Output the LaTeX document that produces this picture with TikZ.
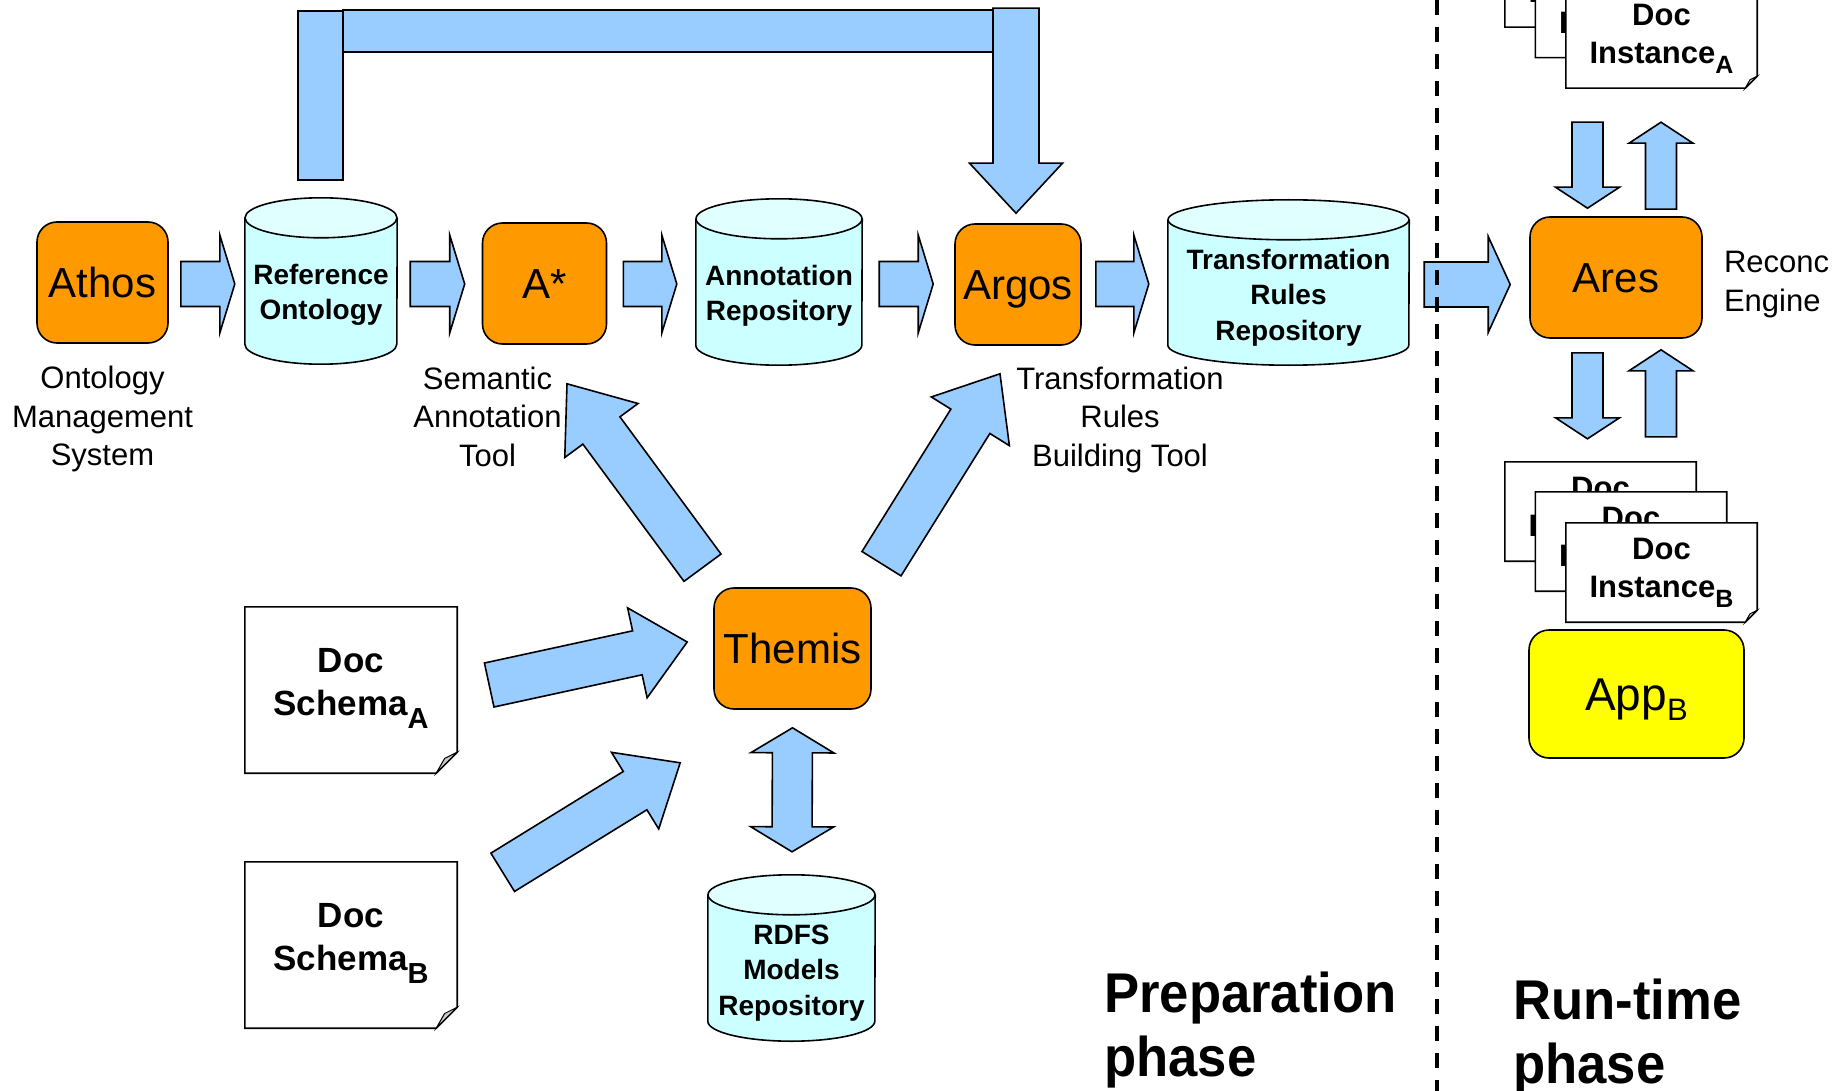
\documentclass[tikz,border=0pt]{standalone}
\usepackage{fontspec}
\setmainfont{Liberation Sans}
\usetikzlibrary{calc}

\definecolor{arrowblue}{HTML}{99CCFF}
\definecolor{toolorange}{HTML}{FF9900}
\definecolor{repobody}{HTML}{CCFFFF}
\definecolor{repotop}{HTML}{E0FFFF}
\definecolor{appyellow}{HTML}{FFFF00}
\definecolor{foldgray}{HTML}{C8C8C8}

\newcommand\fs[2]{\fontsize{#1}{#2}\selectfont}

% straight block arrow: tail #1, tip #2, shaft half width #3, head half width #4, head length #5
\newcommand\flowblock[5]{%
  \coordinate (ba-base) at ($(#2)!#5!(#1)$);
  \draw[flowarrow] ($(#1)!#3!90:(#2)$) -- ($(ba-base)!#3!90:(#2)$) -- ($(ba-base)!#4!90:(#2)$)
    -- (#2) -- ($(ba-base)!#4!-90:(#2)$) -- ($(ba-base)!#3!-90:(#2)$) -- ($(#1)!#3!-90:(#2)$) -- cycle;}

% double-headed block arrow between tips #1 and #2
\newcommand\dblflow[5]{%
  \coordinate (bb-one) at ($(#1)!#5!(#2)$);
  \coordinate (bb-two) at ($(#2)!#5!(#1)$);
  \draw[flowarrow] (#1) -- ($(bb-one)!#4!90:(#2)$) -- ($(bb-one)!#3!90:(#2)$) -- ($(bb-two)!#3!-90:(#1)$)
    -- ($(bb-two)!#4!-90:(#1)$) -- (#2) -- ($(bb-two)!#4!90:(#1)$) -- ($(bb-two)!#3!90:(#1)$)
    -- ($(bb-one)!#3!-90:(#2)$) -- ($(bb-one)!#4!-90:(#2)$) -- cycle;}

% repository cylinder around a node: name, half width (pt)
\newcommand\drawrepo[2]{%
  \fill[repobody] ($(#1.north west)+(0,20)$) -- ($(#1.south west)+(0,-20)$)
    arc[start angle=180, end angle=360, x radius=#2pt, y radius=20pt]
    -- ($(#1.north east)+(0,20)$) -- cycle;
  \draw[outl] ($(#1.north west)+(0,20)$) -- ($(#1.south west)+(0,-20)$)
    arc[start angle=180, end angle=360, x radius=#2pt, y radius=20pt]
    -- ($(#1.north east)+(0,20)$);
  \draw[outl, fill=repotop] ($(#1.north)+(0,20)$) ellipse[x radius=#2pt, y radius=20pt];}

% document sheet outline with folded corner: name, fold size
\newcommand\drawsheet[2]{%
  \draw[outl] ($(#1.south east)+(0,-#2)$) -- (#1.north east) -- (#1.north west)
    -- (#1.south west) -- ($(#1.south east)+(-#2,0)$) -- cycle;
  \draw[outl, line width=1pt, fill=foldgray] ($(#1.south east)+(0,-#2)$) -- ($(#1.south east)+(-#2,0)$)
    -- ($(#1.south east)+(-0.6*#2,-0.7*#2)$) -- cycle;}

% lowered subscript letter: size, drop, letter
\newcommand\lowsub[3]{\raisebox{-#2}{\fs{#1}{#1}#3}}

\tikzset{
  outl/.style={draw=black, line width=1.6pt, line join=miter},
  flowarrow/.style={outl, fill=arrowblue},
  tool/.style={outl, fill=toolorange, rounded corners=20pt, inner sep=0pt,
    text height=30pt, text depth=0pt, font=\fs{42}{50}},
  repoframe/.style={inner sep=0pt},
  repotext/.style={align=center, font=\bfseries\fs{28}{35.5}, inner sep=0pt},
  sheet/.style={fill=white, inner sep=0pt},
  sheettext/.style={align=center, font=\bfseries\fs{31}{38}, inner sep=0pt},
  schematext/.style={align=center, font=\bfseries\fs{35}{43}, inner sep=0pt},
  caption/.style={align=center, font=\fs{31}{38.5}, inner sep=0pt},
  phase/.style={align=left, font=\bfseries\fs{56}{64}, inner sep=0pt, xscale=0.94},
  divider/.style={line width=3.5pt, dash pattern=on 15pt off 12pt},
}

\begin{document}
\begin{tikzpicture}[x=1pt, y=-1pt]
\useasboundingbox (0,0) rectangle (1847,1091);
\clip (0,0) rectangle (1847,1091);

% ---------- tools ----------
\node[tool, minimum width=131pt, minimum height=121pt] (athos) at (102.5,282.5) {Athos};
\node[tool, minimum width=124pt, minimum height=121pt] (astar) at (544.5,283.5) {A*};
\node[tool, minimum width=126pt, minimum height=121pt] (argos) at (1018,284.5) {Argos};
\node[tool, minimum width=157pt, minimum height=121pt] (themis) at (792.5,648.5) {Themis};
\node[tool, minimum width=172pt, minimum height=121pt] (ares) at (1616,277.5) {Ares};
\node[tool, fill=appyellow, minimum width=215pt, minimum height=128pt, font=\fs{46}{52},
  text height=33pt] (appb) at (1636.5,694) {App\lowsub{31}{10pt}{B}};

% ---------- repositories ----------
\node[repoframe, minimum width=152pt, minimum height=166pt] (ref) at (321,281) {};
\drawrepo{ref}{76}
\node[repotext] (ref-name) at ($(ref.center)+(0,14)$) {Reference\\Ontology};

\node[repoframe, minimum width=166pt, minimum height=166pt] (annrep) at (779,282) {};
\drawrepo{annrep}{83}
\node[repotext] (annrep-name) at ($(annrep.center)+(0,14)$) {Annotation\\Repository};

\node[repoframe, minimum width=241pt, minimum height=165pt] (trr) at (1288.5,282.5) {};
\drawrepo{trr}{120.5}
\node[repotext] (trr-name) at ($(trr.center)+(0,15)$) {Transformation\\Rules\\Repository};

\node[repoframe, minimum width=167pt, minimum height=166pt] (rdfs) at (791.5,958) {};
\drawrepo{rdfs}{83.5}
\node[repotext] (rdfs-name) at ($(rdfs.center)+(0,15)$) {RDFS\\Models\\Repository};

% ---------- schemas ----------
\node[sheet, minimum width=212pt, minimum height=166pt] (dsa) at (351,690) {};
\drawsheet{dsa}{21}
\node[schematext] (dsa-name) at ($(dsa.center)+(0,-2)$) {Doc\\Schema\lowsub{29}{13pt}{A}};

\node[sheet, minimum width=212pt, minimum height=166pt] (dsb) at (351,945) {};
\drawsheet{dsb}{21}
\node[schematext] (dsb-name) at ($(dsb.center)+(0,-2)$) {Doc\\Schema\lowsub{29}{13pt}{B}};

% ---------- instance stacks ----------
\node[sheet, minimum width=191pt, minimum height=99pt] (dia3) at (1600.5,-22.5) {};
\drawsheet{dia3}{12}
\node[sheettext] (dia3-name) at ($(dia3.center)+(0,0.5)$) {Doc\\Instance\lowsub{25}{10pt}{A}};
\node[sheet, minimum width=191pt, minimum height=99pt] (dia2) at (1631,8) {};
\drawsheet{dia2}{12}
\node[sheettext] (dia2-name) at ($(dia2.center)+(0,0.5)$) {Doc\\Instance\lowsub{25}{10pt}{A}};
\node[sheet, minimum width=191pt, minimum height=99pt] (dia1) at (1661.5,38.5) {};
\drawsheet{dia1}{12}
\node[sheettext] (dia1-name) at ($(dia1.center)+(0,0.5)$) {Doc\\Instance\lowsub{25}{10pt}{A}};

\node[sheet, minimum width=191pt, minimum height=99pt] (dib3) at (1600.5,511.5) {};
\drawsheet{dib3}{12}
\node[sheettext] (dib3-name) at ($(dib3.center)+(0,0.5)$) {Doc\\Instance\lowsub{25}{10pt}{B}};
\node[sheet, minimum width=191pt, minimum height=99pt] (dib2) at (1631,541.5) {};
\drawsheet{dib2}{12}
\node[sheettext] (dib2-name) at ($(dib2.center)+(0,0.5)$) {Doc\\Instance\lowsub{25}{10pt}{B}};
\node[sheet, minimum width=191pt, minimum height=99pt] (dib1) at (1661.5,572.5) {};
\drawsheet{dib1}{12}
\node[sheettext] (dib1-name) at ($(dib1.center)+(0,0.5)$) {Doc\\Instance\lowsub{25}{10pt}{B}};

% ---------- captions ----------
\node[caption] (athos-cap) at ($(athos.south)+(0,75.5)$) {Ontology\\Management\\System};
\node[caption] (astar-cap) at ($(astar.south)+(-57,72)$) {Semantic\\Annotation\\Tool};
\node[caption] (argos-cap) at ($(argos.south)+(102,74)$) {Transformation\\Rules\\Building Tool};
\node[caption, align=left, anchor=west] (ares-cap) at ($(ares.east)+(21,7)$) {Reconc\\Engine};

\node[phase, anchor=west] (prep) at (1104,1030.5) {Preparation\\phase};
\node[phase, anchor=west] (runtime) at (1513,1037) {Run-time\\phase};

% ---------- main chain ----------
\coordinate (c1s) at ($(athos.east)+(12,1.5)$);  \coordinate (c1e) at ($(c1s -| ref.west)+(-10,0)$);
\coordinate (c2s) at ($(ref.east)+(13,3)$);      \coordinate (c2e) at ($(c2s -| astar.west)+(-17,0)$);
\coordinate (c3s) at ($(astar.east)+(16,0.5)$);  \coordinate (c3e) at ($(c3s -| annrep.west)+(-19,0)$);
\coordinate (c4s) at ($(annrep.east)+(17,2)$);   \coordinate (c4e) at ($(c4s -| argos.west)+(-21,0)$);
\coordinate (c5s) at ($(argos.east)+(14,-0.5)$); \coordinate (c5e) at ($(c5s -| trr.west)+(-19,0)$);
\coordinate (c6s) at ($(trr.east)+(15,2)$);      \coordinate (c6e) at ($(c6s -| ares.west)+(-19,0)$);
\flowblock{c1s}{c1e}{22.5pt}{49pt}{15pt}
\flowblock{c2s}{c2e}{22.5pt}{49pt}{15pt}
\flowblock{c3s}{c3e}{22.5pt}{49pt}{15pt}
\flowblock{c4s}{c4e}{22.5pt}{49pt}{15pt}
\flowblock{c5s}{c5e}{22.5pt}{49pt}{15pt}
\flowblock{c6s}{c6e}{22.5pt}{48pt}{22pt}

% ---------- ontology bypass to Argos ----------
\draw[flowarrow] ($(ref.north)+(22,-188)$) rectangle ($(argos.north)+(-25,-171)$);
\draw[flowarrow] ($(ref.north)+(-23,-18)$) rectangle ($(ref.north)+(22,-187)$);
\coordinate (byp-s) at ($(argos.north)+(-2,-215)$);
\coordinate (byp-e) at ($(argos.north)+(-2,-10)$);
\flowblock{byp-s}{byp-e}{23pt}{46.5pt}{50pt}

% ---------- Themis links ----------
\coordinate (t1s) at ($(themis.north)+(-90,-19.5)$); \coordinate (t1e) at ($(astar.south)+(22.5,39)$);
\coordinate (t2s) at ($(themis.north)+(89,-23.5)$);  \coordinate (t2e) at ($(argos.south)+(-18,28)$);
\coordinate (sas) at ($(dsa.east)+(32,-5)$);          \coordinate (sae) at ($(themis.west)+(-26,-6.5)$);
\coordinate (sbs) at ($(dsb.north east)+(45.5,10.5)$); \coordinate (sbe) at ($(themis.south west)+(-33,53)$);
\coordinate (rd1) at ($(themis.south)+(0,18)$);       \coordinate (rd2) at ($(rdfs.north)+(0.5,-23)$);
\flowblock{t1s}{t1e}{23pt}{45.5pt}{58pt}
\flowblock{t2s}{t2e}{23pt}{46pt}{56pt}
\flowblock{sas}{sae}{22.5pt}{46pt}{51pt}
\flowblock{sbs}{sbe}{22.5pt}{45pt}{53pt}
\dblflow{rd1}{rd2}{20pt}{41.5pt}{25pt}

% ---------- Ares exchanges ----------
\coordinate (ua1) at ($(ares.north)+(-28.5,-94)$); \coordinate (ua2) at ($(ares.north)+(-28.5,-8)$);
\coordinate (ub1) at ($(ares.north)+(45,-7)$);     \coordinate (ub2) at ($(ares.north)+(45,-94)$);
\coordinate (la1) at ($(ares.south)+(-28.5,14)$);  \coordinate (la2) at ($(ares.south)+(-28.5,100)$);
\coordinate (lb1) at ($(ares.south)+(45,98)$);     \coordinate (lb2) at ($(ares.south)+(45,11)$);
\flowblock{ua1}{ua2}{15.5pt}{32pt}{21pt}
\flowblock{ub1}{ub2}{15.5pt}{32pt}{21pt}
\flowblock{la1}{la2}{15.5pt}{32pt}{21pt}
\flowblock{lb1}{lb2}{15.5pt}{32pt}{21pt}

% ---------- phase divider ----------
\coordinate (div-top) at (1437,0);
\coordinate (div-bot) at (1437,1091);
\draw[divider] (div-top) -- (div-bot);
\end{tikzpicture}
\end{document}
